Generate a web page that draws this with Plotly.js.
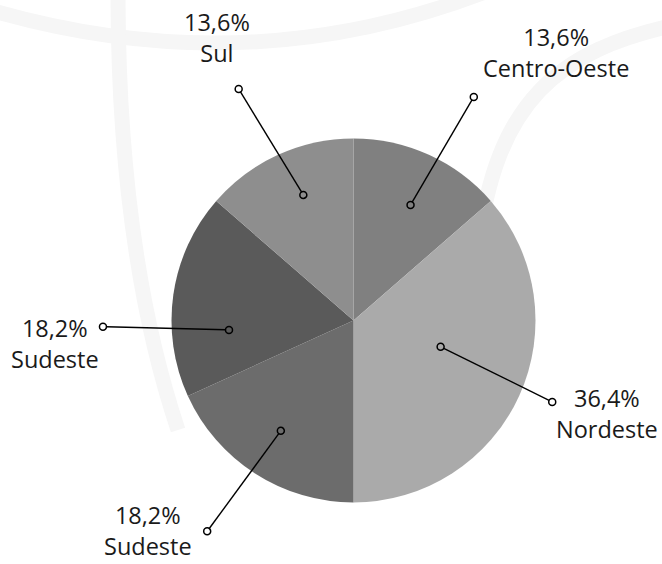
<!DOCTYPE html>
<html>
<head>
<meta charset="utf-8">
<script src="https://cdn.plot.ly/plotly-3.0.1.min.js"></script>
<style>html,body{margin:0;padding:0;background:#fff;}#chart{width:662px;height:564px;}</style>
</head>
<body>
<div id="chart"></div>
<script>
// ---- data ----
const categories = ['Centro-Oeste', 'Nordeste', 'Sudeste', 'Sudeste', 'Sul'];
const percents = [13.6, 36.4, 18.2, 18.2, 13.6];
const sliceColors = ['#808080', '#aaaaaa', '#6c6c6c', '#5a5a5a', '#8e8e8e'];

// ---- placement (leader lines / labels) ----
const W = 662, H = 564;
const CX = 353.5, CY = 320.5, R = 182;
const innerAngleShift = [1.8, -7.7, 0.6, -12.6, 2.7];
const innerRadius = [0.708, 0.50, 0.726, 0.686, 0.743];
const outerAngleShift = [3.8, -2.2, 2.0, -9.7, -1.9];
const outerRadius = [1.395, 1.18, 1.41, 1.377, 1.42];
const labelDX = [82.5, 55, -59.5, -47.5, -21.5];
const labelDY = [-44.5, 11.5, -1, 16.5, -51.5];
const DOT_R = 3.5;

const total = percents.reduce((a, b) => a + b, 0);
let cum = 0;
const midAngles = percents.map(v => { const m = (cum + v / 2) / total * 360; cum += v; return m; });
function polar(angDeg, r) {
  const a = angDeg * Math.PI / 180;
  return [CX + r * Math.sin(a), CY - r * Math.cos(a)];
}

const traces = [{
  type: 'pie',
  labels: categories.map((c, i) => (i + 1) + ' ' + c),
  values: percents,
  sort: false,
  direction: 'clockwise',
  rotation: 0,
  marker: { colors: sliceColors, line: { width: 0 } },
  textinfo: 'none',
  hoverinfo: 'skip',
  showlegend: false,
  domain: { x: [(CX - R) / W, (CX + R) / W], y: [(H - CY - R) / H, (H - CY + R) / H] }
}];

const wmColor = '#f6f6f6';
const shapes = [
  { type: 'path', xref: 'x', yref: 'y', layer: 'below', path: 'M -10,10 Q 245,84 485,-8', line: { color: wmColor, width: 15 } },
  { type: 'path', xref: 'x', yref: 'y', layer: 'below', path: 'M 118,-8 Q 118,250 178,430', line: { color: wmColor, width: 15 } },
  { type: 'path', xref: 'x', yref: 'y', layer: 'below', path: 'M 675,25 C 560,50 495,100 478,250', line: { color: wmColor, width: 15 } }
];
const annotations = [];
const font = { family: 'Open Sans, Noto Sans, sans-serif', size: 23.5, color: '#1a1a1a' };

percents.forEach((v, i) => {
  const p1 = polar(midAngles[i] + innerAngleShift[i], innerRadius[i] * R);
  const p2 = polar(midAngles[i] + outerAngleShift[i], outerRadius[i] * R);
  const dx = p2[0] - p1[0], dy = p2[1] - p1[1], len = Math.hypot(dx, dy);
  const ux = dx / len, uy = dy / len;
  shapes.push({
    type: 'line', xref: 'x', yref: 'y', layer: 'above',
    x0: p1[0] + ux * DOT_R, y0: p1[1] + uy * DOT_R, x1: p2[0] - ux * DOT_R, y1: p2[1] - uy * DOT_R,
    line: { color: '#000', width: 1.4 }
  });
  [p1, p2].forEach(p => shapes.push({
    type: 'circle', xref: 'x', yref: 'y', layer: 'above',
    x0: p[0] - DOT_R, x1: p[0] + DOT_R, y0: p[1] - DOT_R, y1: p[1] + DOT_R,
    line: { color: '#000', width: 1.5 }, fillcolor: 'rgba(0,0,0,0)'
  }));
  annotations.push({
    x: p2[0] + labelDX[i], y: p2[1] + labelDY[i], xref: 'x', yref: 'y',
    text: v.toFixed(1).replace('.', ',') + '%<br>' + categories[i],
    showarrow: false, xanchor: 'center', yanchor: 'middle', align: 'center', font: font
  });
});

const layout = {
  width: W, height: H,
  margin: { l: 0, r: 0, t: 0, b: 0 },
  paper_bgcolor: '#fff', plot_bgcolor: 'rgba(0,0,0,0)',
  xaxis: { range: [0, W], visible: false, fixedrange: true },
  yaxis: { range: [H, 0], visible: false, fixedrange: true },
  showlegend: false,
  annotations: annotations,
  shapes: shapes
};

Plotly.newPlot('chart', traces, layout, { staticPlot: true, displayModeBar: false });
</script>
</body>
</html>
